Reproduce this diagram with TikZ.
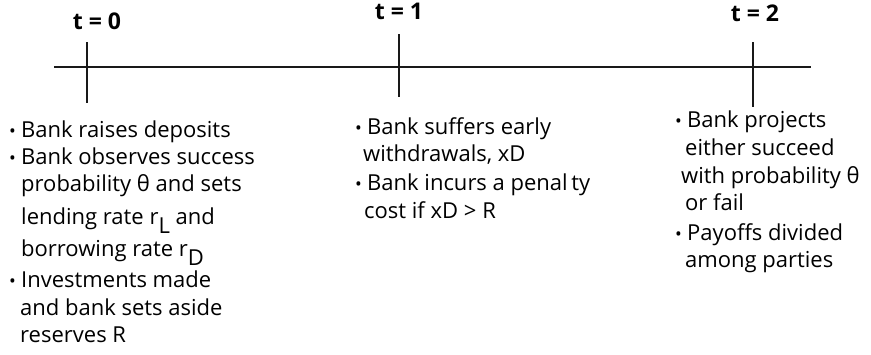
\documentclass[tikz,border=0pt]{standalone}
\usepackage{fontspec}
\setmainfont{Open Sans}
\newcommand{\thet}{θ}
\newcommand{\bul}{\makebox[12pt][l]{\fontsize{18}{18}\selectfont •}}
\newcommand{\subdrop}[1]{\raisebox{-9pt}{#1}}
\begin{document}
\begin{tikzpicture}[x=1pt,y=-1pt,
  axis/.style={line width=1.6pt,draw=black!90},
  tickmark/.style={line width=1.5pt,draw=black!90},
  tlabel/.style={font=\fontsize{23}{27}\selectfont\bfseries,inner sep=0pt,anchor=base},
  txt/.style={font=\fontsize{22}{26}\selectfont,inner sep=0pt,anchor=base west}]
\useasboundingbox (0,0) rectangle (871,354);
% axis
\coordinate (axL) at (54,67);
\coordinate (axR) at (811,67);
\draw[axis] (axL) -- (axR);
% ticks
\coordinate (k0a) at (87,42);  \coordinate (k0b) at (87,103);
\coordinate (k1a) at (399,34); \coordinate (k1b) at (399,97);
\coordinate (k2a) at (753,42); \coordinate (k2b) at (753,107);
\draw[tickmark] (k0a) -- (k0b);
\draw[tickmark] (k1a) -- (k1b);
\draw[tickmark] (k2a) -- (k2b);
% time labels
\node[tlabel] (t0) at (97,29) {t = 0};
\node[tlabel] (t1) at (399,19) {t = 1};
\node[tlabel] (t2) at (755,21) {t = 2};
% left column
\node[txt] (l1) at (9,137) {\bul Bank raises deposits};
\node[txt] (l2) at (9,164) {\bul Bank observes success};
\node[txt] (l3) at (21,191) {probability \thet\ and sets};
\node[txt] (l4) at (21,224) {lending rate r\subdrop{L} and};
\node[txt] (l5) at (21,256) {borrowing rate r\subdrop{D}};
\node[txt] (l6) at (9,287) {\bul Investments made};
\node[txt] (l7) at (20,315) {and bank sets aside};
\node[txt] (l8) at (20,342) {reserves R};
% middle column
\node[txt] (m1) at (355,134) {\bul Bank suffers early};
\node[txt] (m2) at (363,161) {withdrawals, xD};
\node[txt] (m3) at (355,190) {\bul Bank incurs a penal\,ty};
\node[txt] (m4) at (364,218) {cost if xD > R};
% right column
\node[txt] (r1) at (675,127) {\bul Bank projects};
\node[txt] (r2) at (685,155) {either succeed};
\node[txt] (r3) at (681,183) {with probability \thet};
\node[txt] (r4) at (685,210) {or fail};
\node[txt] (r5) at (675,240) {\bul Payoffs divided};
\node[txt] (r6) at (685,267) {among parties};
\end{tikzpicture}
\end{document}
